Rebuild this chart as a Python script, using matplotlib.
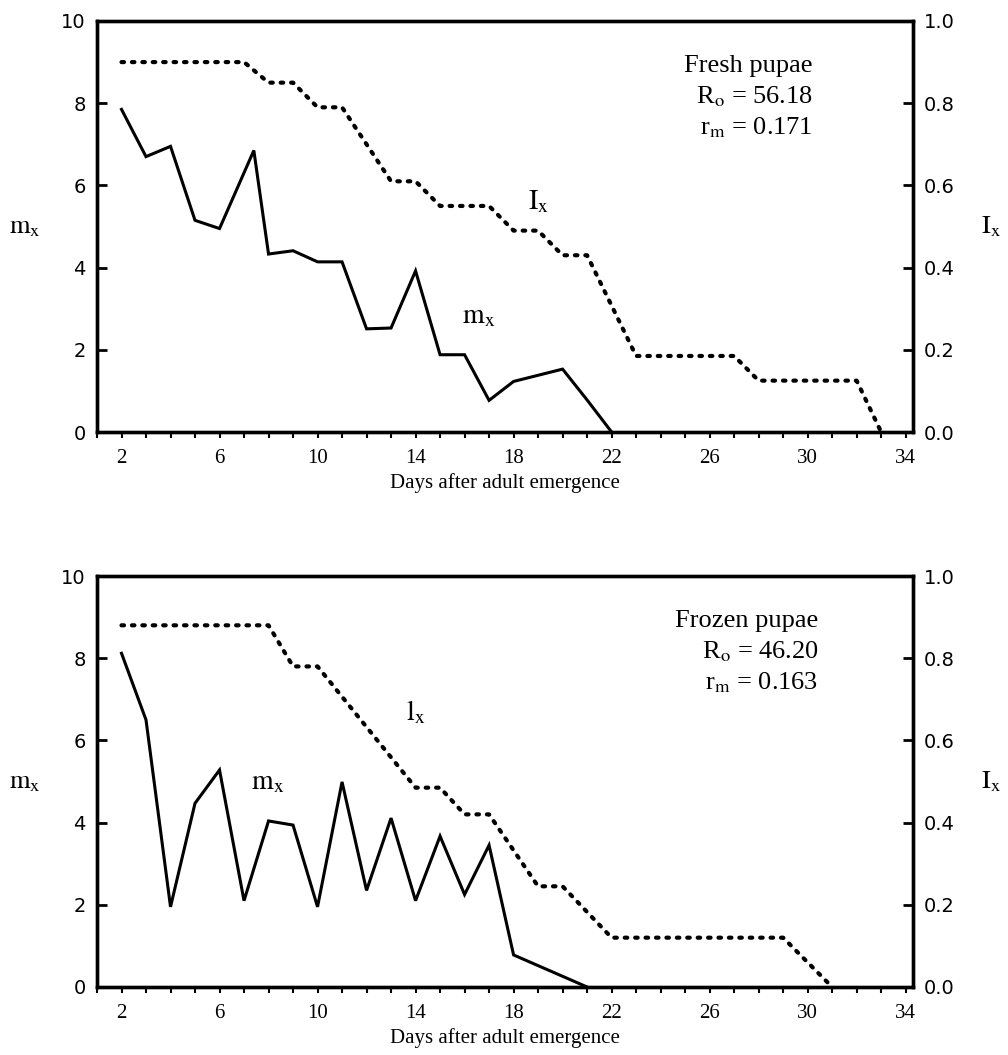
import matplotlib
matplotlib.use("Agg")
import matplotlib.pyplot as plt
from matplotlib.ticker import MultipleLocator, FixedLocator

plt.rcParams['mathtext.fontset'] = 'stix'

# ---- data: fresh pupae (top) ----
fresh_m_days = [2, 3, 4, 5, 6, 7.4, 8, 9, 10, 11, 12, 13, 14, 15, 16, 17, 18, 19, 20, 21, 22]
fresh_m_vals = [7.85, 6.7, 6.95, 5.15, 4.95, 6.85, 4.33, 4.41, 4.14, 4.14, 2.51, 2.53, 3.92,
                1.88, 1.88, 0.77, 1.23, 1.38, 1.53, 0.78, 0.0]
fresh_l_days = [2, 7, 8, 9, 10, 11, 13, 14, 15, 17, 18, 19, 20, 21, 23, 27, 28, 32, 33]
fresh_l_vals = [0.90, 0.90, 0.85, 0.85, 0.79, 0.79, 0.61, 0.61, 0.55, 0.55, 0.49, 0.49,
                0.43, 0.43, 0.185, 0.185, 0.125, 0.125, 0.0]

# ---- data: frozen pupae (bottom) ----
frozen_m_days = [2, 3, 4, 5, 6, 7, 8, 9, 10, 11, 12, 13, 14, 15, 16, 17, 18, 21]
frozen_m_vals = [8.12, 6.5, 1.95, 4.47, 5.28, 2.1, 4.04, 3.94, 1.95, 4.99, 2.35, 4.11,
                 2.1, 3.67, 2.25, 3.45, 0.78, 0.0]
frozen_l_days = [2, 8, 9, 10, 14, 15, 16, 17, 19, 20, 22, 29, 31]
frozen_l_vals = [0.88, 0.88, 0.78, 0.78, 0.485, 0.485, 0.42, 0.42, 0.245, 0.245, 0.12, 0.12, 0.0]

x_ticks = [2, 6, 10, 14, 18, 22, 26, 30, 34]
m_ticks = [0, 2, 4, 6, 8, 10]
l_ticks = [0.0, 0.2, 0.4, 0.6, 0.8, 1.0]
l_tick_labels = ['0.0', '0.2', '0.4', '0.6', '0.8', '1.0']
x_label = 'Days after adult emergence'

panels = [
    dict(m_days=fresh_m_days, m_vals=fresh_m_vals, l_days=fresh_l_days, l_vals=fresh_l_vals,
         title='Fresh pupae', R='56.18', r='0.171', l_inner=r'$\mathrm{I_x}$',
         l_pos=(18.6, 0.563), m_pos=(15.9, 0.284), bottom_px=432, text_x=0.877),
    dict(m_days=frozen_m_days, m_vals=frozen_m_vals, l_days=frozen_l_days, l_vals=frozen_l_vals,
         title='Frozen pupae', R='46.20', r='0.163', l_inner=r'$\mathrm{l_x}$',
         l_pos=(13.6, 0.668), m_pos=(7.3, 0.50), bottom_px=987, text_x=0.884),
]

W, H = 1008, 1055
fig = plt.figure(figsize=(W / 100, H / 100), dpi=100)
serif = 'Liberation Serif'
sans = 'DejaVu Sans'

for p in panels:
    left_px, right_px, height_px = 97, 913, 411
    ax = fig.add_axes([left_px / W, 1 - p['bottom_px'] / H, (right_px - left_px) / W, height_px / H])
    ax2 = ax.twinx()
    ax.set_xlim(1.0, 34.3)
    ax.set_ylim(0, 10)
    ax2.set_ylim(0, 1.0)

    ax.plot(p['m_days'], p['m_vals'], color='black', lw=2.2, solid_joinstyle='miter')
    ax2.plot(p['l_days'], p['l_vals'], color='black', lw=3.0, ls=(0, (0.6, 1.9)),
             dash_capstyle='round')

    for a in (ax, ax2):
        for s in a.spines.values():
            s.set_linewidth(2.4)
    ax.xaxis.set_major_locator(FixedLocator(x_ticks))
    ax.xaxis.set_minor_locator(MultipleLocator(1))
    ax.set_xticklabels([str(t) for t in x_ticks], fontfamily=serif, fontsize=15)
    ax.tick_params(axis='x', which='both', direction='out', length=4, width=1.5, pad=8)
    ax.set_yticks(m_ticks)
    ax.set_yticklabels([str(t) for t in m_ticks], fontfamily=sans, fontsize=14)
    ax.tick_params(axis='y', direction='in', length=7, width=2, pad=8)
    ax2.set_yticks(l_ticks)
    ax2.set_yticklabels(l_tick_labels, fontfamily=sans, fontsize=14)
    ax2.tick_params(axis='y', direction='in', length=7, width=2, pad=8)

    ax.set_xlabel(x_label, fontfamily=serif, fontsize=15, labelpad=4)
    ax.set_ylabel(r'$\mathrm{m_x}$', fontsize=19, rotation=0, ha='center', va='center')
    ax.yaxis.set_label_coords(-0.088, 0.5)
    ax2.set_ylabel(r'$\mathrm{I_x}$', fontsize=19, rotation=0, ha='center', va='center')
    ax2.yaxis.set_label_coords(1.096, 0.5)

    tx = p['text_x']
    ax.text(tx, 0.89, p['title'], transform=ax.transAxes, ha='right', va='center',
            fontfamily=serif, fontsize=19)
    ax.text(tx, 0.815, r'R$_\mathrm{o}$ = ' + p['R'], transform=ax.transAxes, ha='right',
            va='center', fontfamily=serif, fontsize=19)
    ax.text(tx, 0.74, r'r$_\mathrm{m}$ = ' + p['r'], transform=ax.transAxes, ha='right',
            va='center', fontfamily=serif, fontsize=19)
    ax.text(p['l_pos'][0], p['l_pos'][1], p['l_inner'], transform=ax.get_xaxis_transform(),
            fontsize=20, ha='left', va='center')
    ax.text(p['m_pos'][0], p['m_pos'][1], r'$\mathrm{m_x}$', transform=ax.get_xaxis_transform(),
            fontsize=20, ha='left', va='center')

fig.savefig('out.png', dpi=100)
